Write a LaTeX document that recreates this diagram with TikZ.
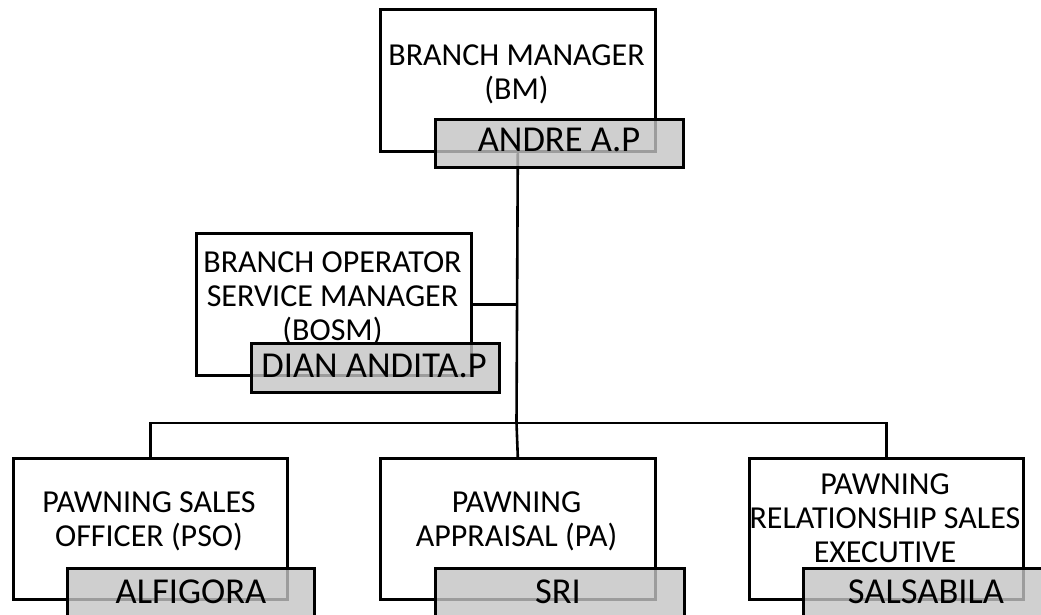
\documentclass[tikz,border=0pt]{standalone}
\usepackage{fontspec}
\setmainfont{Carlito}
\begin{document}
\begin{tikzpicture}[x=1pt,y=-1pt,
  line width=2.6pt,
  rolebox/.style={draw=black,fill=white,inner sep=0pt,anchor=north west},
  namebox/.style={draw=black,fill=black!23,fill opacity=0.8,text opacity=1,inner sep=0pt,anchor=north west},
  roletext/.style={inner sep=0pt,align=center,anchor=north,font=\fontsize{32}{34}\selectfont},
  nametext/.style={inner sep=0pt,anchor=base,font=\fontsize{36.5}{38}\selectfont}]
\useasboundingbox (0,0) rectangle (1041,614);
% Branch manager
\node[rolebox,minimum width=275pt,minimum height=142pt] (bm) at (379,8) {};
\node[roletext] (bmt) at (516.5,43) {BRANCH MANAGER\\(BM)};
% BOSM
\node[rolebox,minimum width=275pt,minimum height=142pt] (bosm) at (195,232) {};
\node[roletext] (bosmt) at (332.5,250) {BRANCH OPERATOR\\SERVICE MANAGER\\(BOSM)};
% PSO
\node[rolebox,minimum width=274pt,minimum height=141pt] (pso) at (12,457) {};
\node[roletext] (psot) at (149,490) {PAWNING SALES\\OFFICER (PSO)};
% PA
\node[rolebox,minimum width=275pt,minimum height=141pt] (pa) at (379,457) {};
\node[roletext] (pat) at (516.5,490) {PAWNING\\APPRAISAL (PA)};
% PRSE
\node[rolebox,minimum width=274pt,minimum height=141pt] (prse) at (748,457) {};
\node[roletext] (prset) at (885,472) {PAWNING\\RELATIONSHIP SALES\\EXECUTIVE};
% connectors
\coordinate (j) at (516.5,423);
\draw (bm.south) -- (j);
\draw (bosm.east) -- (bosm.east -| j);
\draw (j) -| (pso.north);
\draw (j) -- (pa.north);
\draw (j) -| (prse.north);
% name boxes
\node[namebox,minimum width=248pt,minimum height=48pt] (bmn) at (434,118) {};
\node[nametext] (bmnt) at (559,151) {ANDRE A.P};
\node[namebox,minimum width=248pt,minimum height=49pt] (bosmn) at (250,342) {};
\node[nametext] (bosmnt) at (374,377) {DIAN ANDITA.P};
\node[namebox,minimum width=247pt,minimum height=60pt] (pson) at (66,567) {};
\node[nametext] (psont) at (191,603) {ALFIGORA};
\node[namebox,minimum width=249pt,minimum height=60pt] (pan) at (434,567) {};
\node[nametext] (pant) at (558,603) {SRI};
\node[namebox,minimum width=248pt,minimum height=60pt] (prsen) at (802,567) {};
\node[nametext] (prsent) at (926,603) {SALSABILA};
\end{tikzpicture}
\end{document}
